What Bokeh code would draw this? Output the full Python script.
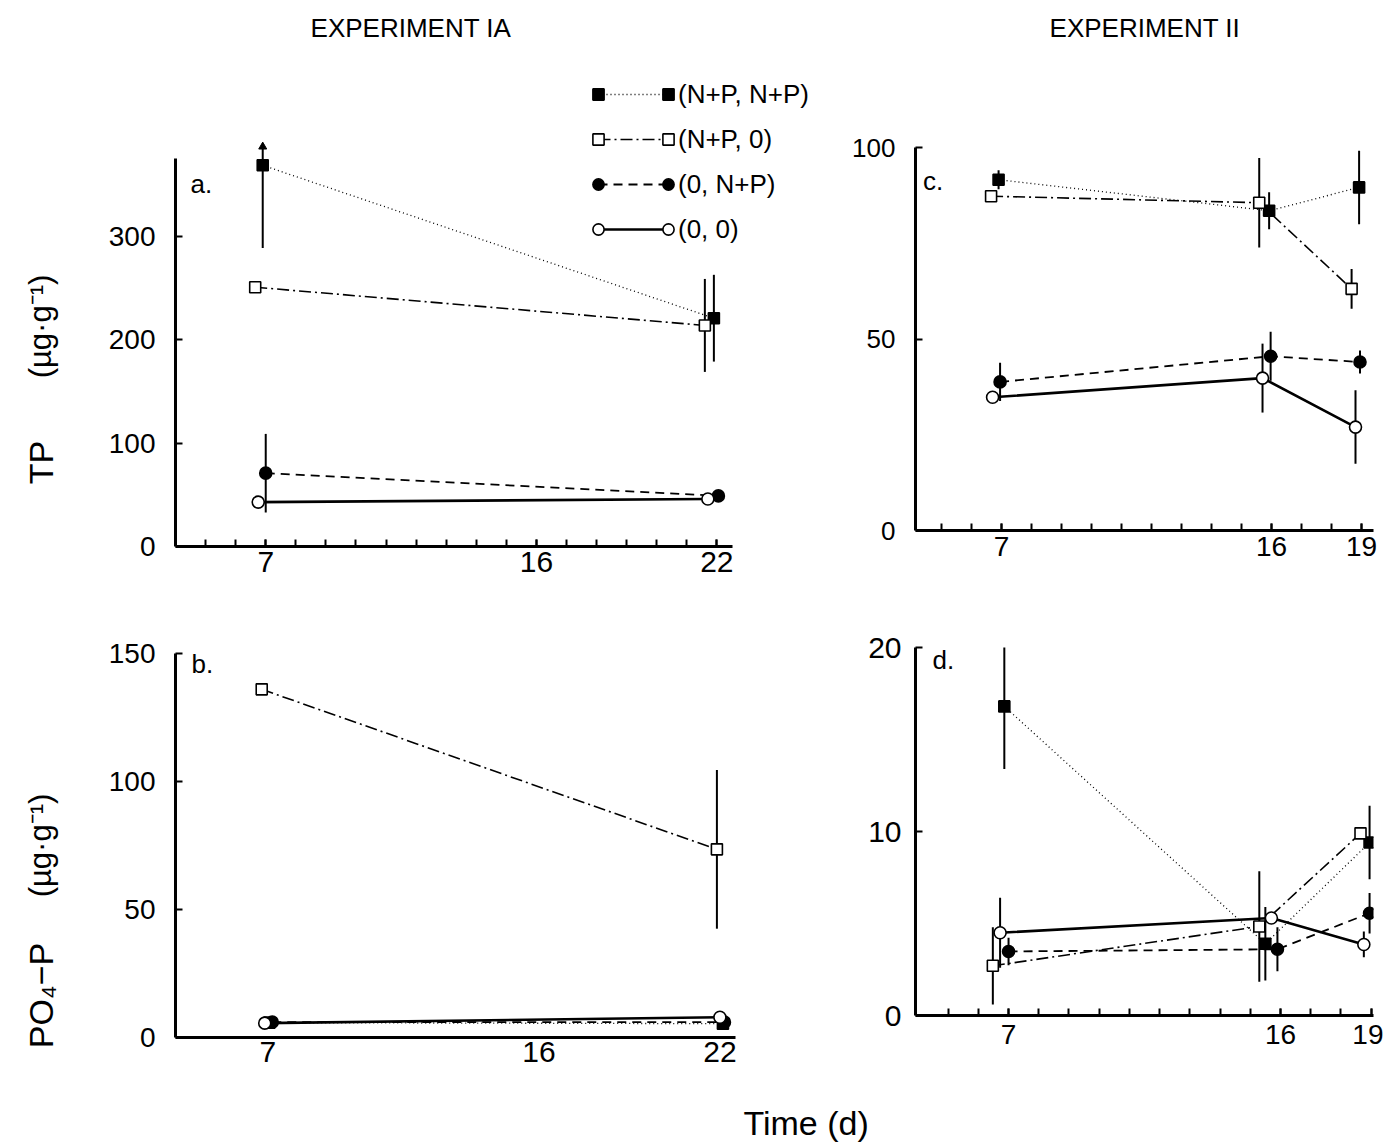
import math
from bokeh.plotting import figure
from bokeh.layouts import column, row
from bokeh.models import FixedTicker, Label, Legend, LegendItem, Range1d
from bokeh.embed import file_html
from bokeh.resources import INLINE

FONT = "Liberation Sans"

# ---------------- data (series order: (N+P,N+P), (N+P,0), (0,N+P), (0,0)) ----------------
series_names = ["(N+P, N+P)", "(N+P, 0)", "(0, N+P)", "(0, 0)"]

# Panel a: TP, Experiment IA
a_days = [[6.9, 21.9], [6.65, 21.6], [7.0, 22.05], [6.75, 21.7]]
a_vals = [[369, 221], [251, 214], [71, 49], [43, 46]]
a_errs = [[80, 42], [0, 45], [38, 0], [0, 0]]

# Panel b: PO4-P, Experiment IA
b_days = [[7.05, 22.1], [6.8, 21.9], [7.15, 22.15], [6.9, 22.0]]
b_vals = [[5.8, 5.4], [136, 73.5], [6.0, 6.0], [5.6, 7.9]]
b_errs = [[0, 0], [0, 31], [0, 0], [0, 0]]

# Panel c: TP, Experiment II
c_days = [[6.9, 15.92, 18.92], [6.65, 15.59, 18.67], [6.95, 15.97, 18.95], [6.7, 15.7, 18.8]]
c_vals = [[91.6, 83.5, 89.6], [87.3, 85.6, 63.1], [38.8, 45.5, 44.0], [34.8, 39.8, 27.0]]
c_errs = [[2.5, 4.8, 9.6], [0, 11.7, 5.2], [5.0, 6.4, 3.0], [0, 9.0, 9.6]]

# Panel d: PO4-P, Experiment II
d_days = [[6.86, 15.5, 18.95], [6.48, 15.3, 18.65], [7.0, 15.9, 18.95], [6.72, 15.7, 18.76]]
d_vals = [[16.8, 3.9, 9.4], [2.7, 4.84, 9.9], [3.48, 3.6, 5.56], [4.5, 5.3, 3.86]]
d_errs = [[3.4, 2.0, 2.0], [2.1, 3.0, 0], [0.75, 1.2, 1.1], [1.9, 0, 0.7]]

# tick labels
a_yticks = [0, 100, 200, 300]
b_yticks = [0, 50, 100, 150]
c_yticks = [0, 50, 100]
d_yticks = [0, 10, 20]
ia_xticks = [7, 16, 22]
ii_xticks = [7, 16, 19]
ia_minor = list(range(5, 23))
ii_minor = list(range(5, 20))

# ---------------- styles ----------------
styles = [
    dict(marker="square", fill="black", dash="1 3", lw=1.3, size=11),
    dict(marker="square", fill="white", dash="12 4 2 4", lw=1.6, size=11),
    dict(marker="circle", fill="black", dash="9 6", lw=1.8, size=12),
    dict(marker="circle", fill="white", dash="solid", lw=2.6, size=12),
]


def make_panel(w, h, borders, xr, yr, xb, yb, days, vals, errs, xticks, xminor, yticks,
               xtick_in, tag, tag_xy, fs_x, fs_y, sx, sy, clip=None):
    bl, br, bt, bb = borders
    p = figure(width=w, height=h, x_range=Range1d(*xr), y_range=Range1d(*yr),
               output_backend="svg", toolbar_location=None,
               min_border_left=bl, min_border_right=br,
               min_border_top=bt, min_border_bottom=bb)
    p.grid.visible = False
    p.outline_line_color = None
    p.background_fill_color = "white"
    p.border_fill_color = "white"

    xa = p.xaxis[0]
    xa.bounds = xb
    xa.ticker = FixedTicker(ticks=xticks, minor_ticks=xminor)
    xa.major_tick_in = xtick_in
    xa.major_tick_out = 0
    xa.minor_tick_in = xtick_in
    xa.minor_tick_out = 0
    xa.major_tick_line_width = 2
    xa.minor_tick_line_width = 2
    xa.axis_line_width = 3
    xa.major_label_text_font = FONT
    xa.major_label_text_font_size = fs_x
    xa.major_label_text_color = "black"
    xa.major_label_standoff = sx

    ya = p.yaxis[0]
    ya.bounds = yb
    ya.ticker = FixedTicker(ticks=yticks)
    ya.major_tick_in = 7
    ya.major_tick_out = 0
    ya.minor_tick_in = 0
    ya.minor_tick_out = 0
    ya.major_tick_line_width = 2
    ya.axis_line_width = 3
    ya.major_label_text_font = FONT
    ya.major_label_text_font_size = fs_y
    ya.major_label_text_color = "black"
    ya.major_label_standoff = sy

    lines, marks = [], []
    for i in range(4):
        st = styles[i]
        lr = p.line(days[i], vals[i], line_color="black", line_width=st["lw"],
                    line_dash=st["dash"])
        lines.append(lr)
    for i in range(4):
        xs = [x for x, e in zip(days[i], errs[i]) if e > 0]
        lo = [v - e for v, e in zip(vals[i], errs[i]) if e > 0]
        hi = [v + e for v, e in zip(vals[i], errs[i]) if e > 0]
        if clip is not None:
            over = [(x, clip) for x, h_ in zip(xs, hi) if h_ > clip]
            hi = [min(h_, clip) for h_ in hi]
            if over:
                p.scatter([o[0] for o in over], [o[1] for o in over], marker="triangle",
                          size=8, fill_color="black", line_color="black")
        if xs:
            p.segment(x0=xs, y0=lo, x1=xs, y1=hi, line_color="black", line_width=2)
    for i in range(4):
        st = styles[i]
        mr = p.scatter(days[i], vals[i], marker=st["marker"], size=st["size"],
                       fill_color=st["fill"], line_color="black", line_width=1.6)
        marks.append(mr)

    p.add_layout(Label(x=tag_xy[0], y=tag_xy[1], text=tag, text_font=FONT,
                       text_font_size="26px", text_baseline="middle",
                       text_align="left", text_color="black"))
    return p, lines, marks


# left column: Experiment IA (frames share left/right borders, as Bokeh aligns them)
fa, a_lines, a_marks = make_panel(760, 600, (95, 0, 5, 54), (4.0, 26.11), (0, 523.7),
                                  (4.0, 22.53), (0, 376),
                                  a_days, a_vals, a_errs, ia_xticks, ia_minor, a_yticks,
                                  7, "a.", (4.5, 351), "30px", "28px", 5, 20, clip=387)
fb, b_lines, b_marks = make_panel(760, 480, (95, 0, 53, 43), (3.94, 26.0), (0, 150),
                                  (3.94, 22.53), (0, 150),
                                  b_days, b_vals, b_errs, ia_xticks, [], b_yticks,
                                  0, "b.", (4.47, 146), "30px", "28px", 4, 20)
# right column: Experiment II
fc, c_lines, c_marks = make_panel(543, 600, (75, 10, 5, 70), (4.13, 19.4), (0, 137.1),
                                  (4.13, 19.4), (0, 100),
                                  c_days, c_vals, c_errs, ii_xticks, ii_minor, c_yticks,
                                  7, "c.", (4.38, 91.4), "28px", "26px", 6, 20)
fd, d_lines, d_marks = make_panel(543, 480, (75, 10, 47, 65), (3.92, 19.08), (0, 20),
                                  (3.92, 19.08), (0, 20),
                                  d_days, d_vals, d_errs, ii_xticks, ii_minor, d_yticks,
                                  7, "d.", (4.48, 19.3), "28px", "30px", 9, 14)

# legend (drawn in panel a): a line with markers at both ends
leg_common = dict(glyph_height=34, label_height=34, spacing=11, padding=0, margin=0,
                  background_fill_alpha=0, border_line_alpha=0,
                  label_text_font=FONT, label_text_font_size="26px",
                  label_text_color="black")
L1 = Legend(items=[LegendItem(label=series_names[i], renderers=[a_lines[i]]) for i in range(4)],
            location=(423, 300), glyph_width=70, label_standoff=10, **leg_common)
L2 = Legend(items=[LegendItem(label=" ", renderers=[a_marks[i]]) for i in range(4)],
            location=(409, 300), glyph_width=28, label_standoff=0, **leg_common)
L3 = Legend(items=[LegendItem(label=" ", renderers=[a_marks[i]]) for i in range(4)],
            location=(479, 300), glyph_width=28, label_standoff=0, **leg_common)
for L in (L1, L2, L3):
    fa.add_layout(L)

# column titles (inside the extended frames)
fa.add_layout(Label(x=11.95, y=502, text="EXPERIMENT  IA", text_font=FONT,
                    text_font_size="26px", text_align="center", text_baseline="middle",
                    text_color="black"))
fc.add_layout(Label(x=11.9, y=131.3, text="EXPERIMENT  II", text_font=FONT,
                    text_font_size="26px", text_align="center", text_baseline="middle",
                    text_color="black"))

# left strip with the y-axis titles
fl = figure(width=80, height=1080, x_range=Range1d(0, 80), y_range=Range1d(0, 1080),
            output_backend="svg", toolbar_location=None, min_border=0,
            x_axis_type=None, y_axis_type=None)
fl.grid.visible = False
fl.outline_line_color = None
for txt, yy, fs in [("TP", 618, "34px"), ("(µg·g⁻¹)", 754, "31px"),
                    ("PO₄−P", 85, "34px"), ("(µg·g⁻¹)", 235, "31px")]:
    fl.add_layout(Label(x=40, y=yy, x_units="screen", y_units="screen", text=txt,
                        angle=math.pi / 2, text_font=FONT, text_font_size=fs,
                        text_align="center", text_baseline="middle", text_color="black"))

# footer with the x-axis title
ff = figure(width=1383, height=64, x_range=Range1d(0, 1383), y_range=Range1d(0, 64),
            output_backend="svg", toolbar_location=None, min_border=0,
            x_axis_type=None, y_axis_type=None)
ff.grid.visible = False
ff.outline_line_color = None
ff.add_layout(Label(x=815, y=22, x_units="screen", y_units="screen", text="Time   (d)",
                    text_font=FONT, text_font_size="34px", text_align="center",
                    text_baseline="middle", text_color="black"))

layout = column(row(fl, column(fa, fb), column(fc, fd)), ff)
open("out.html", "w").write(file_html(layout, INLINE))
